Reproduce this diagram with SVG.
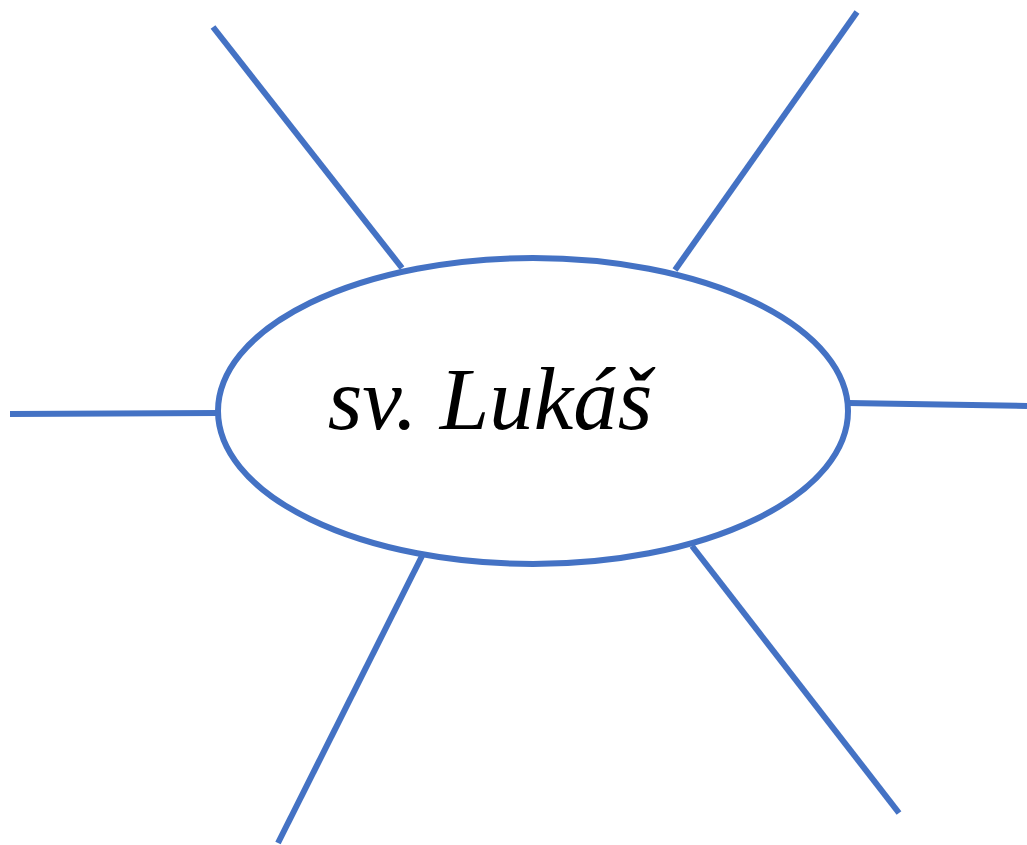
<svg xmlns="http://www.w3.org/2000/svg" width="1027" height="845" viewBox="0 0 1027 845">
<style>
.c{stroke:#4472C4;stroke-width:6;fill:none}
.t{font-family:"Liberation Serif","Times New Roman",serif;font-style:italic;font-size:89px;fill:#000}
</style>
<rect width="1027" height="845" fill="#fff"/>
<g id="connectors">
<line class="c" x1="213" y1="27" x2="402" y2="268"/>
<line class="c" x1="857" y1="12" x2="675" y2="270"/>
<line class="c" x1="10" y1="414" x2="218" y2="413"/>
<line class="c" x1="848" y1="403" x2="1027" y2="406"/>
<line class="c" x1="422" y1="556" x2="278" y2="843"/>
<line class="c" x1="692" y1="546" x2="899" y2="813"/>
</g>
<g id="center">
<ellipse class="c" cx="533" cy="411" rx="315" ry="153" fill="#fff"/>
<text class="t" x="490" y="429" text-anchor="middle">sv. Lukáš</text>
</g>
</svg>
